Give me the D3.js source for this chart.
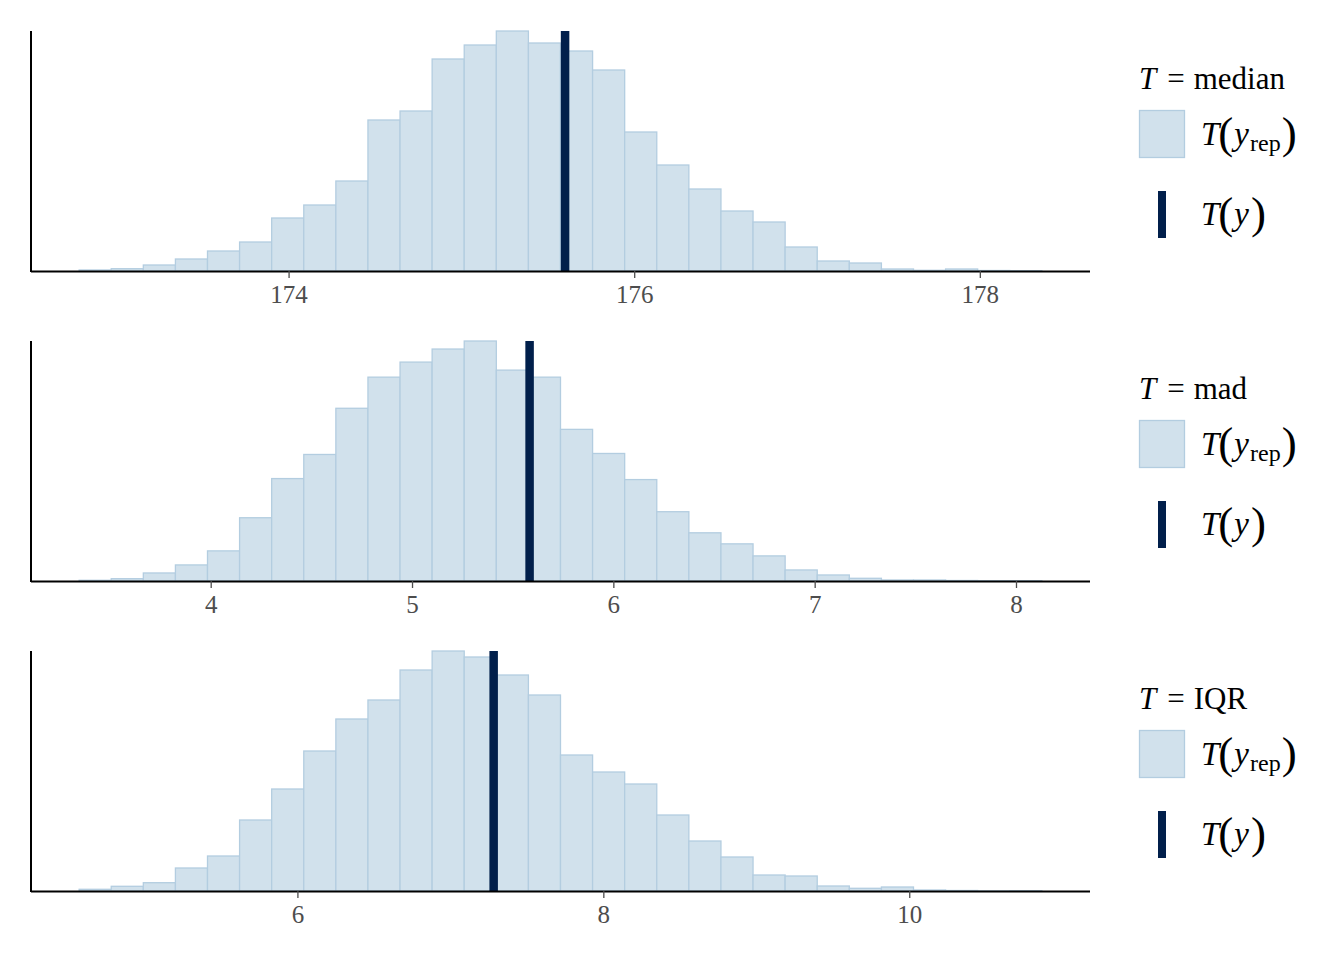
<!DOCTYPE html>
<html><head><meta charset="utf-8">
<script src="https://cdn.jsdelivr.net/npm/d3@7"></script>
<style>
html,body{margin:0;padding:0;background:#fff;}
svg{display:block;}
</style></head>
<body>
<svg id="chart" width="1344" height="960"></svg>
<script>
// ---- Data ----
const statNames = ["median", "mad", "IQR"];
// bin start and width for each statistic's histogram (30 bins)
const binStarts = [172.788, 3.3465, 4.573];
const binWidths = [0.1857, 0.1594, 0.2098];
// observed statistic T(y)
const observedT = [175.60, 5.584, 7.283];
// histogram counts
const countsMedian = [1, 2.3, 6, 12, 20, 29, 53, 66, 90, 151, 160, 212, 226, 240, 228, 220, 201, 139, 106, 82, 60, 49, 24, 10, 8, 2, 0.7, 2, 0.5, 0.3];
const countsMad = [0.7, 2.3, 8, 16, 30, 63, 102, 126, 172, 203, 218, 231, 239, 210, 203, 151, 127, 101, 69, 48, 37, 25, 11, 6, 2.7, 1, 1, 0.5, 0.3, 0.3];
const countsIQR = [1.7, 4.7, 8.3, 23, 35, 71, 102, 140, 172, 191, 221, 240, 234, 216, 196, 136, 119, 107, 76, 50, 34, 16, 15, 5, 2.7, 4, 1, 0.5, 0.1, 0.3];
const tickValuesMedian = [174, 176, 178];
const tickValuesMad = [4, 5, 6, 7, 8];
const tickValuesIQR = [6, 8, 10];

const allCounts = [countsMedian, countsMad, countsIQR];
const allTicks = [tickValuesMedian, tickValuesMad, tickValuesIQR];

// ---- Layout ----
const svg = d3.select("#chart");
const panelTops = [31, 341, 651];
const panelH = 240;
const xLeft = 31, xRight = 1090;
const fillC = "#d1e1ec", lineC = "#b3cde0", darkC = "#011f4b";
const serif = "'Liberation Serif','Times New Roman',serif";

statNames.forEach((name, i) => {
  const top = panelTops[i];
  const base = top + panelH;
  const counts = allCounts[i];
  const bins = counts.map((c, j) => ({x0: binStarts[i] + j * binWidths[i], x1: binStarts[i] + (j + 1) * binWidths[i], c}));
  const lo = bins[0].x0, hi = bins[bins.length - 1].x1, R = hi - lo;
  const x = d3.scaleLinear().domain([lo - 0.05 * R, hi + 0.05 * R]).range([xLeft, xRight]);
  const y = d3.scaleLinear().domain([0, d3.max(counts)]).range([base, top]);

  const g = svg.append("g");
  g.selectAll("rect.bar").data(bins).enter().append("rect")
    .attr("class", "bar")
    .attr("x", d => x(d.x0))
    .attr("width", d => x(d.x1) - x(d.x0))
    .attr("y", d => y(d.c))
    .attr("height", d => base - y(d.c))
    .attr("fill", fillC).attr("stroke", lineC).attr("stroke-width", 1.3);

  // observed line
  g.append("line")
    .attr("x1", x(observedT[i])).attr("x2", x(observedT[i]))
    .attr("y1", base).attr("y2", top)
    .attr("stroke", darkC).attr("stroke-width", 8.5);

  // x axis
  const ax = g.append("g").attr("transform", `translate(0,${base})`)
    .call(d3.axisBottom(x).tickValues(allTicks[i]).tickSize(7).tickPadding(7).tickFormat(d3.format("d")));
  ax.select(".domain").attr("stroke", "#000").attr("stroke-width", 2).attr("d", `M${xLeft},0.5H${xRight}`);
  ax.selectAll(".tick line").attr("stroke", "#4d4d4d").attr("stroke-width", 1.3);
  ax.selectAll(".tick text").attr("fill", "#4d4d4d").attr("font-family", serif).attr("font-size", 25);

  // y axis line
  g.append("line").attr("x1", xLeft).attr("x2", xLeft).attr("y1", top).attr("y2", base + 1)
    .attr("stroke", "#000").attr("stroke-width", 2);

  // legend
  const lg = svg.append("g").attr("font-family", serif).attr("fill", "#000");
  const title = lg.append("text").attr("x", 1139).attr("y", top + 58).attr("font-size", 31);
  title.append("tspan").attr("font-style", "italic").text("T");
  title.append("tspan").attr("dx", 11).text("=");
  title.append("tspan").attr("dx", 9).text(name);

  lg.append("rect").attr("x", 1139.5).attr("y", top + 79.5).attr("width", 45).attr("height", 47)
    .attr("fill", fillC).attr("stroke", lineC).attr("stroke-width", 1.3);
  const t1 = lg.append("text").attr("x", 1201).attr("y", top + 114).attr("font-size", 33);
  t1.append("tspan").attr("font-style", "italic").text("T");
  t1.append("tspan").attr("font-size", 45).attr("dy", 3).attr("dx", -1).text("(");
  t1.append("tspan").attr("font-style", "italic").attr("dy", -3).attr("dx", 1).text("y");
  t1.append("tspan").attr("font-size", 24).attr("dy", 6).attr("dx", 1).text("rep");
  t1.append("tspan").attr("font-size", 45).attr("dy", -3).attr("dx", 1).text(")");

  lg.append("rect").attr("x", 1158).attr("y", top + 160).attr("width", 8).attr("height", 47).attr("fill", darkC);
  const t2 = lg.append("text").attr("x", 1201).attr("y", top + 194).attr("font-size", 33);
  t2.append("tspan").attr("font-style", "italic").text("T");
  t2.append("tspan").attr("font-size", 45).attr("dy", 3).attr("dx", -1).text("(");
  t2.append("tspan").attr("font-style", "italic").attr("dy", -3).attr("dx", 1).text("y");
  t2.append("tspan").attr("font-size", 45).attr("dy", 3).attr("dx", 2).text(")");
});
</script>
</body></html>
